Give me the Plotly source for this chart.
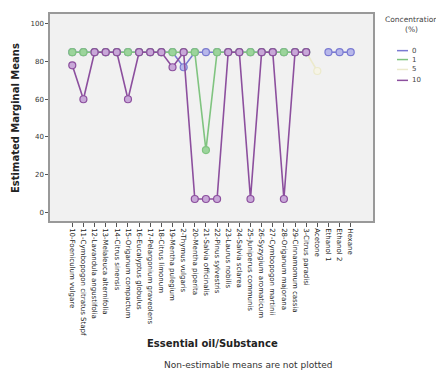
import plotly.graph_objects as go

categories = [
    "10-Foeniculum vulgare", "11-Cymbopogon citratus Stapf", "12-Lavandula angustifolia",
    "13-Melaleuca alternifolia", "14-Citrus sinensis", "15-Origanum compactum",
    "16-Eucalyptus globulus", "17-Pelargonium graveolens", "18-Citrus limonum",
    "19-Mentha pulegium", "2-Thymus vulgaris", "20-Mentha piperita",
    "21-Salvia officinalis", "22-Pinus sylvestris", "23-Laurus nobilis",
    "24-Salvia sclarea", "25-Juniperus communis", "26-Syzygium aromaticum",
    "27-Cymbopogon martinii", "28-Origanum majorana", "29-Cinnamomum cassia",
    "3-Citrus paradisi", "Acetone", "Ethanol 1", "Ethanol 2", "Hexane",
]

N = None
conc_0 = [85, 85, 85, 85, 85, 85, 85, 85, 85, 85, 77, 85, 85, 85, 85, 85, 85, 85, 85, 85, 85, 85, N, 85, 85, 85]
conc_1 = [85, 85, 85, 85, 85, 85, 85, 85, 85, 85, 85, 85, 33, 85, 85, 85, 85, 85, 85, 85, 85, 85, N, N, N, N]
conc_5 = [85, 85, 85, 85, 85, 85, 85, 85, 85, 85, 85, 85, 85, 85, 85, 85, 85, 85, 85, 85, 85, 85, 75, N, N, N]
conc_10 = [78, 60, 85, 85, 85, 60, 85, 85, 85, 77, 85, 7, 7, 7, 85, 85, 7, 85, 85, 7, 85, 85, N, N, N, N]

series_names = ["0", "1", "5", "10"]
series_values = [conc_0, conc_1, conc_5, conc_10]
line_colors = ["#7a7ad2", "#80c480", "#eceacc", "#8c4f9e"]
fill_colors = ["#b8b8ea", "#9cd49c", "#f6f4e6", "#c8a8d8"]
draw_order = [2, 0, 1, 3]

FONT = "DejaVu Sans, Liberation Sans, Arial, sans-serif"

# page has an 8px body margin: the figure is shifted by 8px
OFF = 8
W, H = 444 - OFF, 375 - OFF
PL, PR, PT, PB = 50, 373, 12, 221  # plot box in screen pixels

fig = go.Figure()
xs = list(range(len(categories)))
for i in draw_order:
    name, vals, lc, fc = series_names[i], series_values[i], line_colors[i], fill_colors[i]
    fig.add_trace(go.Scatter(
        x=xs, y=vals, mode="lines+markers", name=name, showlegend=False,
        line=dict(color=lc, width=1.6),
        marker=dict(symbol="circle", size=7, color=fc, line=dict(color=lc, width=1.2)),
        connectgaps=False,
    ))

fig.update_layout(
    width=W, height=H,
    margin=dict(l=PL - OFF, r=W - (PR - OFF), t=PT - OFF, b=H - (PB - OFF), pad=0),
    paper_bgcolor="white", plot_bgcolor="#f1f1f1",
    font=dict(family=FONT, size=7, color="#222"),
    showlegend=False,
)
fig.update_xaxes(
    range=[-2, 27], tickmode="array", tickvals=xs, ticktext=categories,
    tickangle=90, ticks="outside", ticklen=4, tickcolor="#555",
    showline=True, linecolor="#999", linewidth=1.5, mirror=True,
    showgrid=False, zeroline=False, tickfont=dict(size=7, color="#222"),
)
fig.update_yaxes(
    range=[-4.7, 105.3], tickvals=[0, 20, 40, 60, 80, 100],
    ticks="outside", ticklen=3, tickcolor="#555",
    showline=True, linecolor="#999", linewidth=1.5, mirror=True,
    showgrid=False, zeroline=False, tickfont=dict(size=7, color="#333"),
)

pw, ph = PR - PL, PB - PT
def px_x(px):
    return (px - PL) / pw
def px_y(py):
    return (PB - py) / ph

ann = []
ann.append(dict(text="<b>Estimated Marginal Means</b>", xref="paper", yref="paper",
                x=px_x(16), y=px_y(117), textangle=-90, showarrow=False,
                font=dict(size=10, color="#222"), xanchor="center", yanchor="middle"))
ann.append(dict(text="<b>Essential oil/Substance</b>", xref="paper", yref="paper",
                x=px_x(212), y=px_y(345), showarrow=False,
                font=dict(size=10, color="#222"), xanchor="center", yanchor="middle"))
ann.append(dict(text="Non-estimable means are not plotted", xref="paper", yref="paper",
                x=px_x(248), y=px_y(366), showarrow=False,
                font=dict(size=9, color="#333"), xanchor="center", yanchor="middle"))
ann.append(dict(text="Concentration<br>(%)", xref="paper", yref="paper",
                x=px_x(411), y=px_y(23), showarrow=False, align="center",
                font=dict(size=7.5, color="#444"), xanchor="center", yanchor="middle"))
shapes = []
leg_y = [49, 58, 68, 79]
for name, lc, ly in zip(series_names, line_colors, leg_y):
    shapes.append(dict(type="line", xref="paper", yref="paper",
                       x0=px_x(397), x1=px_x(408), y0=px_y(ly), y1=px_y(ly),
                       line=dict(color=lc, width=1.5)))
    ann.append(dict(text=name, xref="paper", yref="paper", x=px_x(410), y=px_y(ly),
                    showarrow=False, xanchor="left", yanchor="middle",
                    font=dict(size=7, color="#444")))
fig.update_layout(annotations=ann, shapes=shapes)

fig.write_html("out.html")
